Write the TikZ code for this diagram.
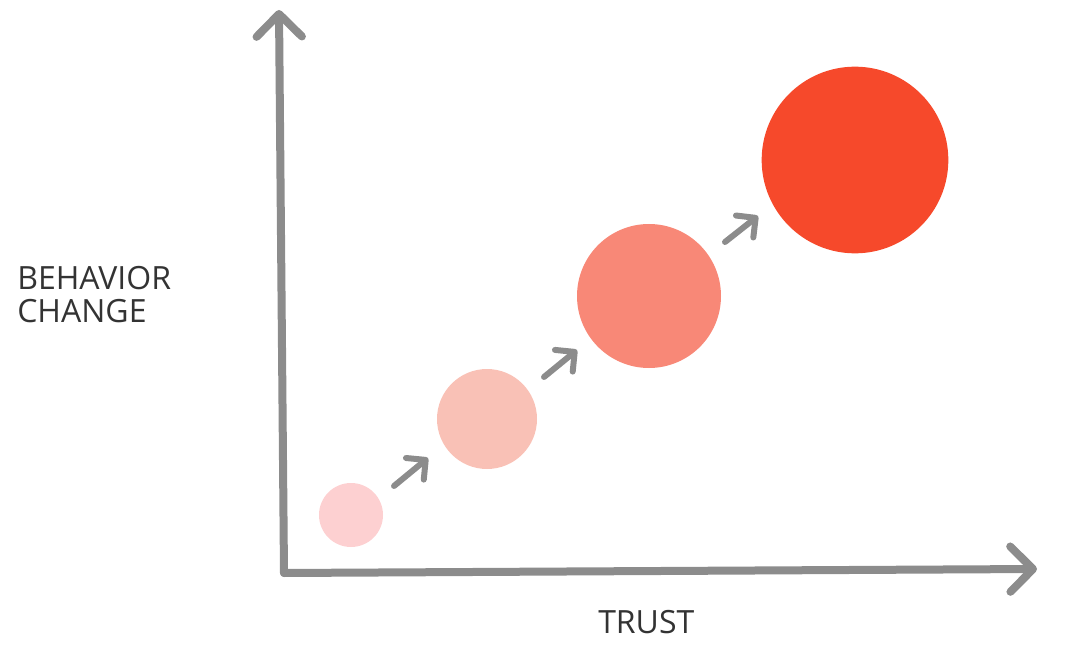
\documentclass[tikz,border=0pt]{standalone}
\usepackage{fontspec}
\setmainfont{Open Sans}
\usetikzlibrary{arrows.meta}
\definecolor{axisgray}{HTML}{8C8C8C}
\definecolor{textgray}{HTML}{333333}
\definecolor{trustA}{HTML}{FDD0D1}
\definecolor{trustB}{HTML}{F9C1B6}
\definecolor{trustC}{HTML}{F88877}
\definecolor{trustD}{HTML}{F6492B}
\tikzset{
  axis/.style={draw=axisgray, line width=6pt, line cap=round, line join=round,
    -{Straight Barb[length=17pt, width=34pt, line cap=round, line join=round]}},
  stepline/.style={draw=axisgray, line width=4.5pt, line cap=round, line join=round,
    -{Straight Barb[length=10.5pt, width=21pt, line cap=round, line join=round]}},
  ball/.style={shape=circle, inner sep=0pt, draw=none},
  axislabel/.style={anchor=base west, inner sep=0pt, text=textgray,
    font=\fontsize{24}{25}\selectfont, align=left}
}
\begin{document}
\begin{tikzpicture}[x=0.75pt, y=-0.75pt]
  \useasboundingbox (0,0) rectangle (1065,649);

  \coordinate (o) at (284, 573);
  \coordinate (ytop) at (279, 10);
  \coordinate (xend) at (1037, 569);

  \node[ball, fill=trustA, minimum size=48pt] (c1) at (351, 515){};
  \node[ball, fill=trustB, minimum size=75pt] (c2) at (487, 419){};
  \node[ball, fill=trustC, minimum size=108pt] (c3) at (649, 296){};
  \node[ball, fill=trustD, minimum size=140pt] (c4) at (855, 160){};

  \coordinate (s1) at (394, 486);
  \coordinate (e1) at (428, 458);
  \coordinate (s2) at (544, 377);
  \coordinate (e2) at (577, 350);
  \coordinate (s3) at (725, 242);
  \coordinate (e3) at (758, 216);

  \node[axislabel] (ylab) at (17, 323){BEHAVIOR\\CHANGE};
  \node[axislabel] (xlab) at (598, 633){TRUST};

  \draw[axis] (o) to (ytop);
  \draw[axis] (o) to (xend);

  \draw[stepline] (s1) to (e1);
  \draw[stepline] (s2) to (e2);
  \draw[stepline] (s3) to (e3);
\end{tikzpicture}
\end{document}
